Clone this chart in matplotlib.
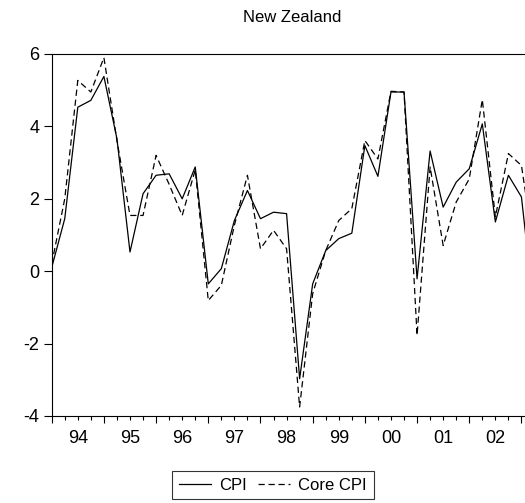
import numpy as np
import pandas as pd
import matplotlib
matplotlib.use("Agg")
import matplotlib.pyplot as plt
from matplotlib.ticker import FixedLocator, FuncFormatter

plt.rcParams['font.family'] = ['Liberation Sans', 'DejaVu Sans']
plt.rcParams['axes.unicode_minus'] = False

# quarterly inflation, 1994Q1 - 2003Q2
quarters = pd.period_range("1994Q1", periods=38, freq="Q")
cpi = [0.1, 1.45, 4.53, 4.72, 5.38, 3.66, 0.53, 2.14, 2.65, 2.69, 2.0, 2.88,
       -0.35, 0.07, 1.4, 2.23, 1.45, 1.63, 1.59, -2.97, -0.35, 0.57, 0.9, 1.05,
       3.47, 2.62, 4.95, 4.95, -0.21, 3.32, 1.77, 2.46, 2.83, 4.07, 1.36, 2.65,
       2.05, -1.2]
core_cpi = [0.2, 2.0, 5.27, 4.95, 5.9, 3.61, 1.54, 1.54, 3.2, 2.4, 1.54, 2.8,
            -0.81, -0.39, 1.27, 2.65, 0.62, 1.13, 0.62, -3.75, -0.62, 0.57, 1.4, 1.73,
            3.61, 3.1, 4.97, 4.95, -1.77, 2.88, 0.71, 1.91, 2.55, 4.74, 1.5, 3.25,
            2.92, 0.5]

x = np.array([q.year + (q.quarter - 1) / 4 for q in quarters])

fig = plt.figure(figsize=(5.25, 5.03), dpi=100)
ax = fig.add_axes([51.7/525, 87/503, (534.5-51.7)/525, 362/503])

ax.plot(x, cpi, color="black", lw=0.9, label="CPI")
ax.plot(x, core_cpi, color="black", lw=0.9, linestyle=(0, (5, 3)), label="Core CPI")

ax.set_xlim(x[0], x[-1])
ax.set_ylim(-4, 6)
ax.set_yticks([-4, -2, 0, 2, 4, 6])
ax.tick_params(axis="y", direction="out", length=6, width=0.8, pad=3, labelsize=13)

years = np.arange(1994, 2004)
ax.xaxis.set_major_locator(FixedLocator(years))
ax.xaxis.set_major_formatter(FuncFormatter(lambda v, p: ""))
ax.xaxis.set_minor_locator(FixedLocator(np.arange(1994, 2003.3, 0.25)))
ax.xaxis.set_minor_formatter(FuncFormatter(
    lambda v, p: "%02d" % (int(v) % 100) if abs(v % 1 - 0.5) < 1e-6 else ""))
ax.tick_params(axis="x", which="major", direction="out", length=5, width=0.8)
ax.tick_params(axis="x", which="minor", direction="out", length=3, width=0.8,
               pad=7, labelsize=13)

for s in ["left", "bottom", "top"]:
    ax.spines[s].set_linewidth(0.8)
ax.spines["right"].set_visible(False)

fig.text(292.5/525, 1 - 17/503, "New Zealand", ha="center", va="center", fontsize=12)

leg = fig.legend(loc="center", bbox_to_anchor=(273/525, 18/503), ncol=2,
                 fontsize=12, frameon=True, fancybox=False, edgecolor="black",
                 handlelength=1.9, handletextpad=0.5, columnspacing=0.7,
                 borderpad=0.4, borderaxespad=0)
leg.get_frame().set_linewidth(0.8)

fig.savefig("out.png", dpi=100)
